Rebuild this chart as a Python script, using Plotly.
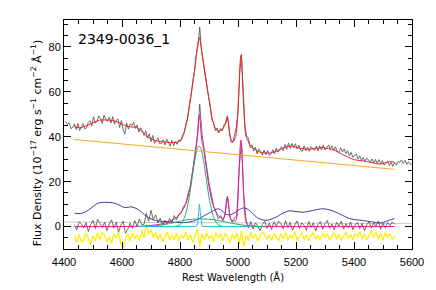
import plotly.graph_objects as go

# observed spectrum (upper), sampled every 6 A from 4406 A
wave_top = list(range(4406, 5601, 6))
flux_top = [
    46.8, 45.4, 46.2, 43.6, 44.1, 45.7, 43.2, 45.9, 42.8, 44.7,
    45.8, 43.5, 44.0, 46.4, 47.1, 45.0, 48.9, 46.0, 46.9, 49.3,
    48.2, 45.9, 49.6, 47.8, 46.8, 48.7, 46.1, 48.9, 45.6, 47.3,
    47.9, 44.1, 47.2, 43.0, 41.2, 46.1, 43.4, 45.8, 44.9, 46.4,
    43.7, 45.2, 42.1, 44.0, 42.8, 40.6, 42.7, 39.4, 41.3, 37.8,
    40.6, 37.1, 38.2, 39.5, 36.9, 37.0, 38.6, 36.3, 38.9, 37.5,
    35.8, 38.4, 36.0, 37.9, 36.6, 38.7, 38.0, 40.4, 41.6, 45.5,
    48.0, 54.0, 58.1, 64.6, 69.1, 76.3, 80.6, 88.9, 78.4, 74.2,
    67.5, 63.6, 57.9, 54.2, 47.6, 46.3, 42.7, 43.9, 41.6, 43.7,
    42.6, 45.4, 45.9, 49.3, 42.2, 38.8, 37.5, 40.9, 44.0, 50.8,
    68.5, 76.6, 58.9, 44.6, 40.3, 39.4, 35.2, 36.4, 33.6, 35.3,
    32.4, 34.6, 33.5, 31.8, 34.1, 32.0, 33.9, 31.6, 32.4, 34.2,
    32.4, 35.0, 33.1, 34.1, 35.6, 33.8, 36.6, 34.4, 37.2, 34.8,
    37.0, 35.1, 36.9, 34.6, 36.2, 34.1, 33.6, 35.9, 33.8, 35.4,
    33.5, 35.6, 34.7, 33.9, 35.8, 33.7, 36.0, 34.2, 36.4, 34.1,
    35.1, 36.3, 34.5, 36.0, 33.9, 35.5, 33.6, 32.9, 35.1, 33.2,
    34.6, 32.5, 33.8, 31.5, 33.0, 30.9, 31.6, 32.3, 30.1, 31.5,
    29.4, 30.8, 29.0, 30.5, 29.6, 28.6, 30.1, 28.3, 29.9, 28.1,
    29.8, 27.9, 29.4, 27.4, 28.2, 28.9, 27.2, 28.6, 26.8, 28.7,
    27.3, 29.0, 28.6, 29.7, 28.2, 29.5, 27.7, 28.9, 27.6, 27.9,
]

# total model fit (red)
fit_wave = [4436, 4455, 4480, 4500, 4523, 4545, 4568, 4590, 4614, 4635,
            4650, 4668, 4687, 4716, 4745, 4772, 4795, 4806, 4815, 4824,
            4838, 4850, 4860, 4867, 4874, 4884, 4898, 4912, 4925, 4936,
            4945, 4953, 4958, 4963, 4968, 4972, 4977, 4985, 4992, 4995,
            4998, 5001, 5004, 5007, 5010, 5013, 5016, 5019, 5022, 5025,
            5028, 5034, 5044, 5057, 5072, 5091, 5114, 5140, 5160, 5182,
            5210, 5239, 5270, 5296, 5330, 5364, 5398, 5443, 5470, 5489,
            5510, 5523, 5539]
fit_flux = [44.5, 44.0, 45.0, 46.3, 47.4, 47.5, 47.2, 46.3, 44.8, 44.3,
            44.2, 42.5, 40.0, 38.2, 37.7, 37.4, 37.8, 39.0, 42.3, 47.0,
            58.5, 69.6, 80.0, 84.2, 79.0, 69.6, 58.5, 47.4, 43.0, 42.5,
            43.2, 44.6, 46.8, 48.9, 45.5, 40.5, 37.5, 38.0, 40.2, 42.5,
            47.5, 55.3, 63.4, 72.6, 76.3, 72.6, 63.4, 55.3, 47.5, 42.0,
            40.0, 38.3, 35.5, 34.6, 33.3, 32.8, 32.8, 34.0, 35.2, 35.9,
            35.0, 34.4, 34.9, 35.1, 34.1, 31.9, 29.9, 29.0, 28.2, 27.8,
            28.5, 28.9, 28.7]

# power-law continuum (orange)
cont_wave = [4434, 5539]
cont_flux = [38.8, 25.5]

# Fe II template (blue)
fe_wave = [4437, 4455, 4470, 4485, 4500, 4512, 4523, 4545, 4568, 4590,
           4605, 4617, 4631, 4645, 4660, 4672, 4684, 4700, 4716, 4740,
           4761, 4790, 4820, 4850, 4875, 4900, 4920, 4932, 4945, 4960,
           4975, 4990, 5005, 5020, 5035, 5050, 5068, 5084, 5102, 5118,
           5136, 5155, 5178, 5200, 5221, 5245, 5266, 5290, 5310, 5330,
           5346, 5364, 5380, 5402, 5430, 5455, 5477, 5493, 5511, 5525,
           5539]
fe_flux = [5.9, 5.8, 6.3, 7.4, 8.9, 10.0, 10.6, 10.8, 10.6, 9.6,
           8.6, 8.5, 8.8, 8.3, 7.2, 5.9, 4.6, 3.4, 2.7, 2.3,
           2.1, 1.8, 1.8, 2.6, 4.2, 6.0, 7.4, 7.9, 7.0, 5.4,
           5.3, 6.3, 7.6, 8.3, 7.6, 5.9, 3.8, 3.0, 2.8, 3.5,
           4.5, 6.0, 7.0, 6.7, 6.4, 6.8, 7.4, 7.9, 7.6, 6.8,
           5.9, 4.8, 3.8, 3.1, 2.7, 2.2, 1.8, 1.6, 2.3, 3.0,
           3.5]

# line residual spectrum (grey, lower) and fit residual (yellow), every 8 A
wave_low = list(range(4436, 5541, 8))
resid_lines = [
    0.8, -1.5, 2.1, 1.2, -0.6, 1.7, -2.2, 0.9, 2.8, -0.9,
    3.2, 1.4, -0.4, 2.0, -1.8, 1.1, 3.0, -0.7, 1.9, -2.5,
    0.6, 2.4, -3.0, -1.2, 1.5, -0.8, 2.6, 0.2, 3.4, 0.9,
    1.0, 5.8, 2.4, 7.2, 3.1, 5.2, 1.6, 3.8, 0.7, 2.9,
    1.2, 3.6, 1.8, 4.9, 3.0, 5.6, 6.1, 8.9, 10.2, 14.8,
    17.9, 25.1, 32.4, 40.8, 54.5, 41.2, 33.8, 26.0, 19.5, 14.6,
    9.0, 6.8, 3.4, 4.9, 2.6, 5.8, 13.6, 4.1, 1.9, 3.7,
    4.9, 26.2, 37.1, 13.8, 2.9, -0.6, 2.2, -1.1, 1.6, 0.4,
    -1.8, 0.9, 2.3, -0.8, 1.5, -1.3, 2.1, 0.1, 2.4, 1.2,
    -1.0, 2.6, -0.5, 1.8, -1.6, 0.8, 2.5, -0.9, 1.6, 0.6,
    -1.7, 2.2, -0.4, 1.7, -1.9, 0.9, 2.3, -1.2, 1.4, 2.7,
    -0.8, 1.1, -1.5, 1.9, 0.2, 2.4, -1.1, 1.3, -0.6, 2.0,
    -1.4, 0.7, 1.9, -0.9, 1.5, -1.8, 0.8, 2.2, -0.7, 1.6,
    0.1, 2.5, -1.2, 1.4, -0.5, 1.8, 0.4, 2.1, 1.0,
]
resid_fit = [
    -4.2, -7.1, -3.5, -6.8, -5.9, -2.9, -5.6, -8.0, -4.1, -6.3,
    -3.0, -5.8, -2.6, -3.9, -6.9, -4.4, -7.5, -3.2, -5.1, -2.4,
    -7.7, -9.8, -5.2, -3.1, -6.4, -2.8, -5.5, -3.6, -6.1, -2.2,
    -4.8, 1.2, -3.4, -1.5, -4.9, -2.7, -5.7, -3.3, -6.8, -4.2,
    -2.5, -6.0, -3.8, -5.9, -2.9, -6.5, -3.7, -5.2, -2.4, -6.1,
    -3.5, -7.0, -4.3, -1.0, -8.6, -3.2, -6.0, -2.7, -5.4, -3.9,
    -6.8, -2.6, -5.0, -3.3, -6.4, -2.9, -4.6, -7.3, -3.6, -5.5,
    -2.8, -7.9, -1.9, -8.8, -4.0, -6.2, -2.7, -5.3, -3.4, -6.6,
    -4.1, -2.5, -3.6, -5.8, -3.7, -6.2, -2.9, -4.7, -6.5, -3.1,
    -5.4, -2.6, -6.1, -3.8, -5.0, -2.3, -6.4, -4.2, -2.8, -5.7,
    -3.5, -6.3, -4.0, -2.6, -5.5, -3.9, -6.0, -2.9, -4.8, -3.2,
    -6.1, -4.4, -2.7, -5.6, -3.4, -6.2, -4.1, -2.5, -5.3, -3.6,
    -5.9, -3.0, -4.7, -2.2, -5.6, -3.3, -6.0, -4.2, -1.8, -4.9,
    -2.6, -5.5, -3.1, -6.2, -2.7, -4.6, -3.2, -5.8, -4.4,
]

# total emission-line model (magenta)
lines_wave = [4437, 4600, 4660, 4700, 4730, 4761, 4785, 4800, 4812, 4824,
              4834, 4842, 4850, 4856, 4860, 4862, 4864, 4867, 4870, 4872,
              4875, 4880, 4886, 4892, 4898, 4904, 4912, 4920, 4928, 4936,
              4944, 4950, 4953, 4956, 4958, 4960.5, 4963, 4965.5, 4968, 4970.5,
              4973, 4976, 4982, 4988, 4992, 4995, 4998, 5001, 5004, 5007,
              5010, 5013, 5016, 5019, 5022, 5025, 5028, 5032, 5040, 5060,
              5080, 5539]
lines_flux = [0.0, 0.0, 0.1, 0.5, 1.0, 2.0, 3.8, 5.5, 8.0, 11.5,
              17.0, 23.5, 30.0, 35.5, 39.5, 42.5, 46.5, 49.8, 46.5, 42.5,
              38.5, 35.5, 30.5, 25.0, 19.5, 15.0, 10.5, 7.5, 5.5, 4.4,
              3.7, 3.5, 4.4, 6.3, 9.3, 12.0, 12.9, 12.0, 9.3, 6.2,
              4.2, 3.1, 2.6, 2.5, 2.4, 3.7, 7.9, 15.5, 25.6, 34.8,
              38.5, 34.8, 25.6, 15.5, 7.9, 3.7, 1.8, 0.9, 0.3, 0.1,
              0.0, 0.0]

# broad H-beta components (green)
hb1_wave = [4700, 4770, 4790, 4806, 4818, 4830, 4836, 4842, 4848, 4854,
            4860, 4866, 4872, 4878, 4884, 4890, 4896, 4902, 4914, 4926,
            4942, 4960, 5040]
hb1_flux = [0.0, 0.0, 0.2, 1.6, 4.9, 11.7, 16.4, 21.8, 27.1, 31.7,
            34.8, 35.9, 34.8, 31.7, 27.1, 21.8, 16.4, 11.7, 4.9, 1.6,
            0.2, 0.0, 0.0]
hb2_wave = [4680, 4720, 4760, 4790, 4820, 4850, 4880, 4910, 4940, 4970,
            5000, 5030, 5060, 5090]
hb2_flux = [0.0, 0.4, 1.2, 2.1, 2.9, 3.3, 3.4, 3.1, 2.5, 1.7,
            1.0, 0.4, 0.1, 0.0]

# narrow H-beta (cyan)
hbn_wave = [4665, 4856, 4858, 4861, 4864, 4867, 4870, 4873, 4876, 4878, 5040]
hbn_flux = [0.0, 0.0, 0.1, 1.4, 6.1, 10.1, 6.1, 1.4, 0.1, 0.0, 0.0]

# reference level (light grey)
ref_wave = [4400, 5600]
ref_flux = [2.0, 1.3]

fig = go.Figure()


def line(x, y, color, width=1.0, shape="linear", smooth=None):
    ln = dict(color=color, width=width, shape=shape)
    if smooth is not None:
        ln["smoothing"] = smooth
    fig.add_trace(go.Scatter(x=x, y=y, mode="lines", line=ln,
                             hoverinfo="skip", showlegend=False))


line(ref_wave, ref_flux, "#c8c8c8")
line(fe_wave, fe_flux, "#3b3ba3", shape="spline", smooth=0.8)
line(wave_low, resid_lines, "#4a4a4a", width=0.8)
line(wave_low, resid_fit, "#ffee00", width=1.3)
line(lines_wave, lines_flux, "#ee1199", shape="spline", smooth=0.6)
line(hb2_wave, hb2_flux, "#1fae6a", shape="spline", smooth=0.8)
line(hb1_wave, hb1_flux, "#1fae6a", shape="spline", smooth=0.8)
line(hbn_wave, hbn_flux, "#22bde0")
line(cont_wave, cont_flux, "#f7a928")
line(wave_top, flux_top, "#4a4a4a", width=0.8)
line(fit_wave, fit_flux, "#ee2222", shape="spline", smooth=0.6)

font = "Liberation Sans, Arial, sans-serif"
font2 = "DejaVu Sans, Verdana, sans-serif"
axis = dict(showline=True, linecolor="black", linewidth=1, mirror="allticks",
            ticks="inside", ticklen=7, tickwidth=1, tickcolor="black",
            showgrid=False, zeroline=False,
            tickfont=dict(family=font, size=11, color="black"))

fig.update_layout(
    width=436, height=290,
    margin=dict(l=64, r=19, t=20, b=41),
    plot_bgcolor="white", paper_bgcolor="white",
    xaxis=dict(range=[4400, 5600], tick0=4400, dtick=200, ticklabelstandoff=3,
               minor=dict(dtick=50, ticks="inside", ticklen=4, tickcolor="black"),
               **axis),
    yaxis=dict(range=[-10, 92], tick0=0, dtick=20,
               minor=dict(dtick=5, ticks="inside", ticklen=4, tickcolor="black"),
               **axis),
    annotations=[
        dict(text="2349-0036_1", xref="paper", yref="paper", x=0.034, y=0.917,
             xanchor="left", yanchor="middle", showarrow=False,
             font=dict(family=font2, size=14, color="black")),
        dict(text="Rest Wavelength (Å)", xref="paper", yref="paper", x=0.487, y=-0.122,
             xanchor="center", yanchor="middle", showarrow=False,
             font=dict(family=font2, size=10, color="black")),
        dict(text="Flux Density (10<sup>−17</sup> erg s<sup>−1</sup> cm<sup>−2</sup> Å<sup>−1</sup>)",
             xref="paper", yref="paper", x=-0.0765, y=0.463, textangle=-90,
             xanchor="center", yanchor="middle", showarrow=False,
             font=dict(family=font2, size=11, color="black")),
    ],
)

# drop the default page margin so the figure sits at the window corner
fig.write_html("out.html", config={"displayModeBar": False},
               post_script="document.body.style.margin='0';")
